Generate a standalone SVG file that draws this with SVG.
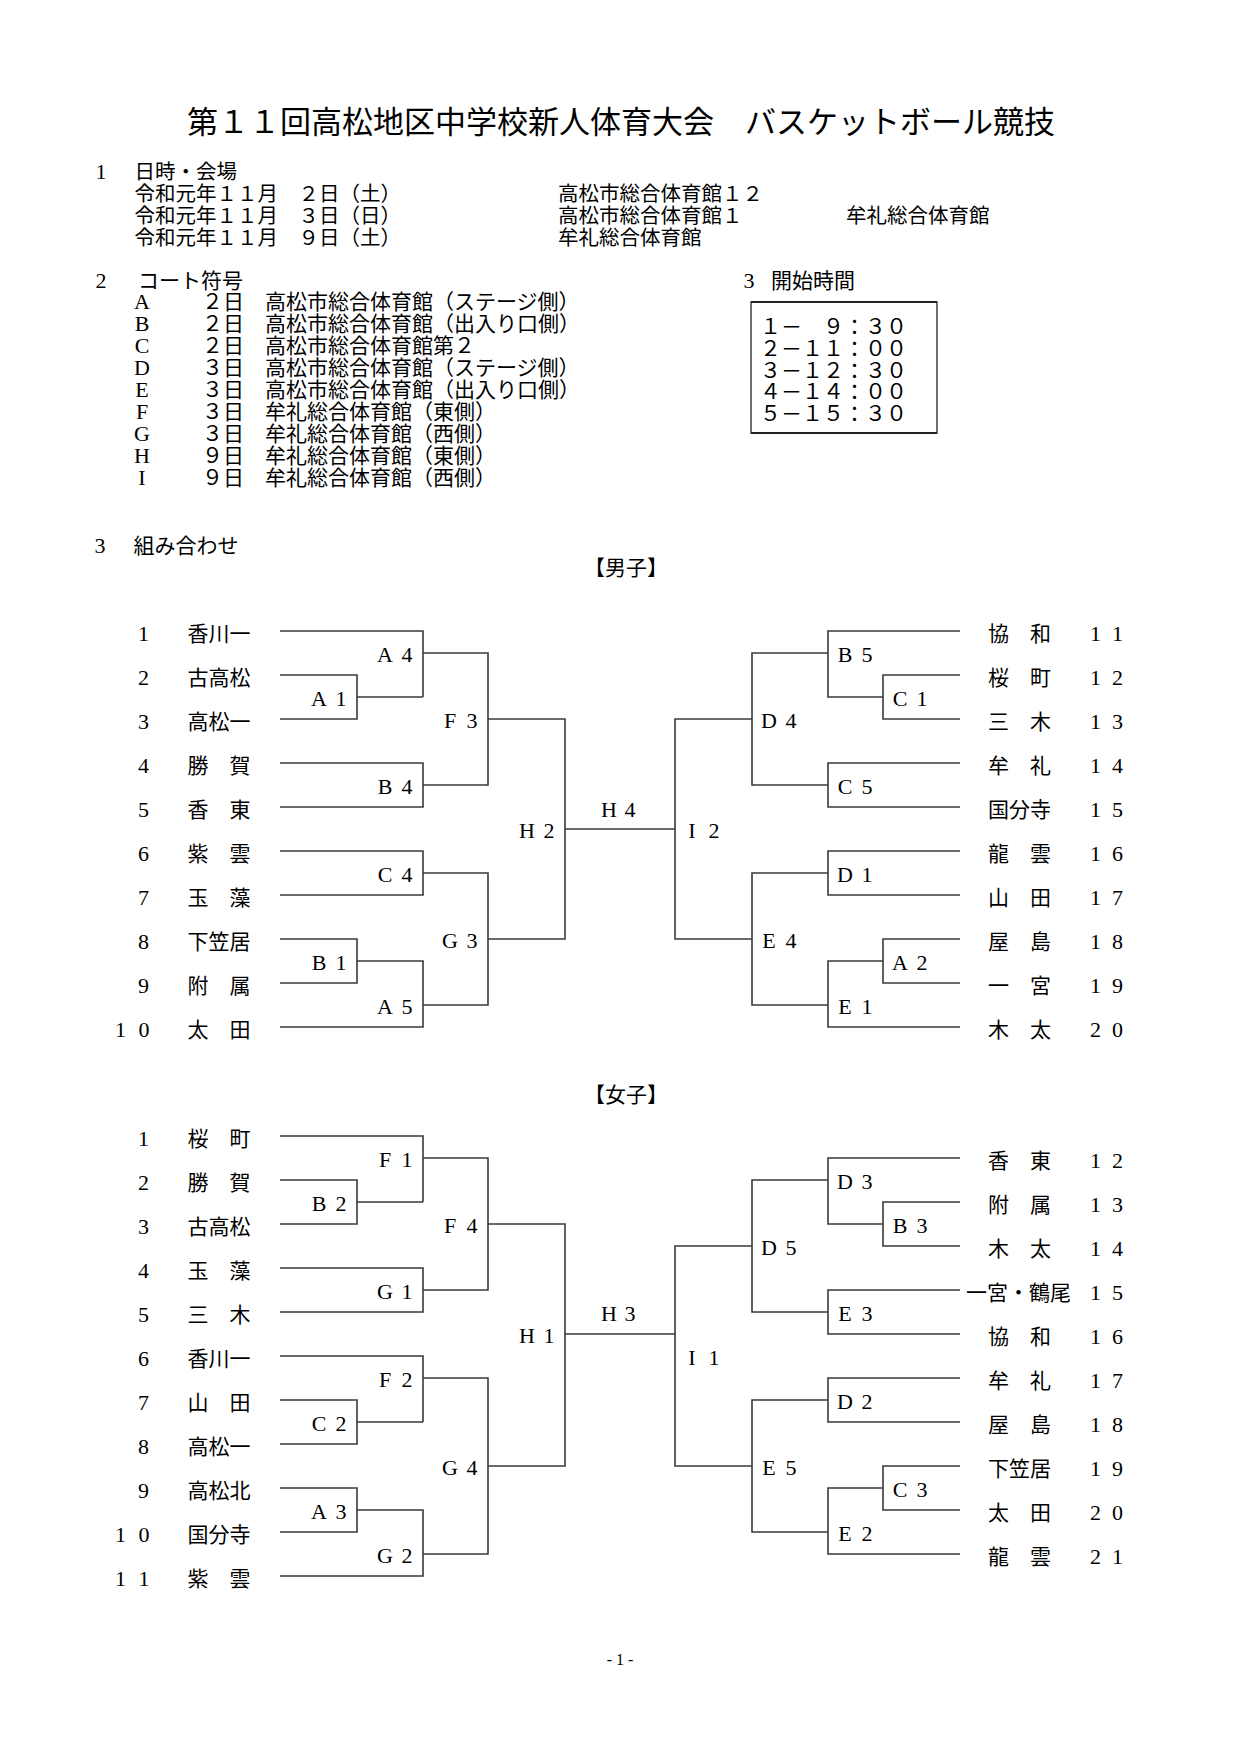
<svg xmlns="http://www.w3.org/2000/svg" width="1240" height="1753" viewBox="0 0 1240 1753">
<style>
.s{font-family:"Liberation Serif","Noto Sans CJK JP",serif;font-size:22px;fill:#000}
.j{font-family:"Noto Sans CJK JP","Liberation Serif",sans-serif;font-size:21px;fill:#000}
.h{font-family:"Noto Sans CJK JP","Liberation Serif",sans-serif;font-size:20.5px;fill:#000}
.m{text-anchor:middle}
.c{fill:none;stroke:#3a3a3a;stroke-width:1.6}
</style>
<rect width="1240" height="1753" fill="#fff"/>
<g id="header">
<text class="j m" x="621" y="133" style="font-size:31px">第１１回高松地区中学校新人体育大会　バスケットボール競技</text>
<text class="s m" x="101" y="178.5">1</text>
<text class="h" x="134.5" y="178.5">日時・会場</text>
<text class="h" x="134.5" y="200.5">令和元年１１月　２日（土）</text>
<text class="h" x="134.5" y="222.5">令和元年１１月　３日（日）</text>
<text class="h" x="134.5" y="244.5">令和元年１１月　９日（土）</text>
<text class="h" x="558" y="200.5">高松市総合体育館１２</text>
<text class="h" x="558" y="222.5">高松市総合体育館１</text>
<text class="h" x="846" y="222.5">牟礼総合体育館</text>
<text class="h" x="558" y="244.5">牟礼総合体育館</text>
</g>
<g id="courts">
<text class="s m" x="101" y="287.5">2</text>
<text class="j" x="138" y="287.5">コート符号</text>
<g class="s m"><text x="142" y="308.5">A</text><text x="142" y="330.5">B</text><text x="142" y="352.5">C</text><text x="142" y="374.5">D</text><text x="142" y="396.5">E</text><text x="142" y="418.5">F</text><text x="142" y="440.5">G</text><text x="142" y="462.5">H</text><text x="142" y="484.5">I</text></g>
<g class="j"><text x="202" y="308.5">２日</text><text x="202" y="330.5">２日</text><text x="202" y="352.5">２日</text><text x="202" y="374.5">３日</text><text x="202" y="396.5">３日</text><text x="202" y="418.5">３日</text><text x="202" y="440.5">３日</text><text x="202" y="462.5">９日</text><text x="202" y="484.5">９日</text></g>
<g class="j"><text x="265" y="308.5">高松市総合体育館（ステージ側）</text><text x="265" y="330.5">高松市総合体育館（出入り口側）</text><text x="265" y="352.5">高松市総合体育館第２</text><text x="265" y="374.5">高松市総合体育館（ステージ側）</text><text x="265" y="396.5">高松市総合体育館（出入り口側）</text><text x="265" y="418.5">牟礼総合体育館（東側）</text><text x="265" y="440.5">牟礼総合体育館（西側）</text><text x="265" y="462.5">牟礼総合体育館（東側）</text><text x="265" y="484.5">牟礼総合体育館（西側）</text></g>
</g>
<g id="times">
<text class="s m" x="749" y="287.5">3</text>
<text class="j" x="771" y="287.5">開始時間</text>
<rect x="751" y="302" width="186" height="131" fill="none" stroke="#222" stroke-width="1.3"/>
<path d="M751,302H937M751,433H937" stroke="#222" stroke-width="2.2"/>
<g class="j"><text x="760" y="334">１－　９：３０</text><text x="760" y="356">２－１１：００</text><text x="760" y="378">３－１２：３０</text><text x="760" y="399">４－１４：００</text><text x="760" y="421">５－１５：３０</text></g>
</g>
<g id="section3">
<text class="s m" x="100" y="553">3</text>
<text class="j" x="133.5" y="553">組み合わせ</text>
<text class="j m" x="626" y="575">【男子】</text>
<text class="j m" x="626" y="1102">【女子】</text>
</g>
<g id="connectors" class="c">
<path d="M280,631H423V697M280,675H357V719H280M357,697H423M423,653H488V785H423M280,763H423V807H280M488,719H565V939H488M280,851H423V895H280M423,873H488V1005H423M280,939H357V983H280M357,961H423V1027H280M565,829H675"/>
<path d="M752,719H675V939H752M828,653H752V785H828M960,631H828V697H883M960,675H883V719H960M960,763H828V807H960M828,873H752V1005H828M960,851H828V895H960M883,961H828V1027H960M960,939H883V983H960"/>
<path d="M280,1136H423V1202M280,1180H357V1224H280M357,1202H423M423,1158H488V1290H423M280,1268H423V1312H280M488,1224H565V1466H488M565,1334H675M280,1356H423V1422M280,1400H357V1444H280M357,1422H423M423,1378H488V1554H423M280,1488H357V1532H280M357,1510H423V1576H280"/>
<path d="M752,1246H675V1466H752M828,1180H752V1312H828M960,1158H828V1224H883M960,1202H883V1246H960M960,1290H828V1334H960M828,1400H752V1532H828M960,1378H828V1422H960M883,1488H828V1554H960M960,1466H883V1510H960"/>
</g>
<g id="men-teams">
<g id="m1"><text class="s" x="138" y="641">1</text><text class="j m" x="219" y="641">香川一</text></g>
<g id="m2"><text class="s" x="138" y="685">2</text><text class="j m" x="219" y="685">古高松</text></g>
<g id="m3"><text class="s" x="138" y="729">3</text><text class="j m" x="219" y="729">高松一</text></g>
<g id="m4"><text class="s" x="138" y="773">4</text><text class="j m" x="219" y="773">勝　賀</text></g>
<g id="m5"><text class="s" x="138" y="817">5</text><text class="j m" x="219" y="817">香　東</text></g>
<g id="m6"><text class="s" x="138" y="861">6</text><text class="j m" x="219" y="861">紫　雲</text></g>
<g id="m7"><text class="s" x="138" y="905">7</text><text class="j m" x="219" y="905">玉　藻</text></g>
<g id="m8"><text class="s" x="138" y="949">8</text><text class="j m" x="219" y="949">下笠居</text></g>
<g id="m9"><text class="s" x="138" y="993">9</text><text class="j m" x="219" y="993">附　属</text></g>
<g id="m10"><text class="s" x="115 138.5" y="1037">10</text><text class="j m" x="219" y="1037">太　田</text></g>
<g id="m11"><text class="j m" x="1019.5" y="641">協　和</text><text class="s" x="1090 1112" y="641">11</text></g>
<g id="m12"><text class="j m" x="1019.5" y="685">桜　町</text><text class="s" x="1090 1112" y="685">12</text></g>
<g id="m13"><text class="j m" x="1019.5" y="729">三　木</text><text class="s" x="1090 1112" y="729">13</text></g>
<g id="m14"><text class="j m" x="1019.5" y="773">牟　礼</text><text class="s" x="1090 1112" y="773">14</text></g>
<g id="m15"><text class="j m" x="1019.5" y="817">国分寺</text><text class="s" x="1090 1112" y="817">15</text></g>
<g id="m16"><text class="j m" x="1019.5" y="861">龍　雲</text><text class="s" x="1090 1112" y="861">16</text></g>
<g id="m17"><text class="j m" x="1019.5" y="905">山　田</text><text class="s" x="1090 1112" y="905">17</text></g>
<g id="m18"><text class="j m" x="1019.5" y="949">屋　島</text><text class="s" x="1090 1112" y="949">18</text></g>
<g id="m19"><text class="j m" x="1019.5" y="993">一　宮</text><text class="s" x="1090 1112" y="993">19</text></g>
<g id="m20"><text class="j m" x="1019.5" y="1037">木　太</text><text class="s" x="1090 1112" y="1037">20</text></g>
</g>
<g id="men-matches" class="s m">
<text id="mA4" x="385 407" y="662">A4</text>
<text id="mA1" x="319 341" y="706">A1</text>
<text id="mF3" x="450 472" y="728">F3</text>
<text id="mB4" x="385 407" y="794">B4</text>
<text id="mH2" x="527 549" y="838">H2</text>
<text id="mC4" x="385 407" y="882">C4</text>
<text id="mG3" x="450 472" y="948">G3</text>
<text id="mB1" x="319 341" y="970">B1</text>
<text id="mA5" x="385 407" y="1014">A5</text>
<text id="mH4" x="609 630" y="817">H4</text>
<text id="mB5" x="845 867" y="662">B5</text>
<text id="mC1" x="900 922" y="706">C1</text>
<text id="mD4" x="769 791" y="728">D4</text>
<text id="mC5" x="845 867" y="794">C5</text>
<text id="mI2" x="692 714" y="838">I2</text>
<text id="mD1" x="845 867" y="882">D1</text>
<text id="mE4" x="769 791" y="948">E4</text>
<text id="mA2" x="900 922" y="970">A2</text>
<text id="mE1" x="845 867" y="1014">E1</text>
</g>
<g id="women-teams">
<g id="w1"><text class="s" x="138" y="1146">1</text><text class="j m" x="219" y="1146">桜　町</text></g>
<g id="w2"><text class="s" x="138" y="1190">2</text><text class="j m" x="219" y="1190">勝　賀</text></g>
<g id="w3"><text class="s" x="138" y="1234">3</text><text class="j m" x="219" y="1234">古高松</text></g>
<g id="w4"><text class="s" x="138" y="1278">4</text><text class="j m" x="219" y="1278">玉　藻</text></g>
<g id="w5"><text class="s" x="138" y="1322">5</text><text class="j m" x="219" y="1322">三　木</text></g>
<g id="w6"><text class="s" x="138" y="1366">6</text><text class="j m" x="219" y="1366">香川一</text></g>
<g id="w7"><text class="s" x="138" y="1410">7</text><text class="j m" x="219" y="1410">山　田</text></g>
<g id="w8"><text class="s" x="138" y="1454">8</text><text class="j m" x="219" y="1454">高松一</text></g>
<g id="w9"><text class="s" x="138" y="1498">9</text><text class="j m" x="219" y="1498">高松北</text></g>
<g id="w10"><text class="s" x="115 138.5" y="1542">10</text><text class="j m" x="219" y="1542">国分寺</text></g>
<g id="w11"><text class="s" x="115 138.5" y="1586">11</text><text class="j m" x="219" y="1586">紫　雲</text></g>
<g id="w12"><text class="j m" x="1019.5" y="1168">香　東</text><text class="s" x="1090 1112" y="1168">12</text></g>
<g id="w13"><text class="j m" x="1019.5" y="1212">附　属</text><text class="s" x="1090 1112" y="1212">13</text></g>
<g id="w14"><text class="j m" x="1019.5" y="1256">木　太</text><text class="s" x="1090 1112" y="1256">14</text></g>
<g id="w15"><text class="j m" x="1018.5" y="1300">一宮・鶴尾</text><text class="s" x="1090 1112" y="1300">15</text></g>
<g id="w16"><text class="j m" x="1019.5" y="1344">協　和</text><text class="s" x="1090 1112" y="1344">16</text></g>
<g id="w17"><text class="j m" x="1019.5" y="1388">牟　礼</text><text class="s" x="1090 1112" y="1388">17</text></g>
<g id="w18"><text class="j m" x="1019.5" y="1432">屋　島</text><text class="s" x="1090 1112" y="1432">18</text></g>
<g id="w19"><text class="j m" x="1019.5" y="1476">下笠居</text><text class="s" x="1090 1112" y="1476">19</text></g>
<g id="w20"><text class="j m" x="1019.5" y="1520">太　田</text><text class="s" x="1090 1112" y="1520">20</text></g>
<g id="w21"><text class="j m" x="1019.5" y="1564">龍　雲</text><text class="s" x="1090 1112" y="1564">21</text></g>
</g>
<g id="women-matches" class="s m">
<text id="wF1" x="385 407" y="1167">F1</text>
<text id="wB2" x="319 341" y="1211">B2</text>
<text id="wF4" x="450 472" y="1233">F4</text>
<text id="wG1" x="385 407" y="1299">G1</text>
<text id="wH1" x="527 549" y="1343">H1</text>
<text id="wF2" x="385 407" y="1387">F2</text>
<text id="wC2" x="319 341" y="1431">C2</text>
<text id="wG4" x="450 472" y="1475">G4</text>
<text id="wA3" x="319 341" y="1519">A3</text>
<text id="wG2" x="385 407" y="1563">G2</text>
<text id="wH3" x="609 630" y="1321">H3</text>
<text id="wD3" x="845 867" y="1189">D3</text>
<text id="wB3" x="900 922" y="1233">B3</text>
<text id="wD5" x="769 791" y="1255">D5</text>
<text id="wE3" x="845 867" y="1321">E3</text>
<text id="wI1" x="692 714" y="1365">I1</text>
<text id="wD2" x="845 867" y="1409">D2</text>
<text id="wE5" x="769 791" y="1475">E5</text>
<text id="wC3" x="900 922" y="1497">C3</text>
<text id="wE2" x="845 867" y="1541">E2</text>
</g>
<text class="s m" x="620" y="1665" style="font-size:16px">- 1 -</text>
</svg>
